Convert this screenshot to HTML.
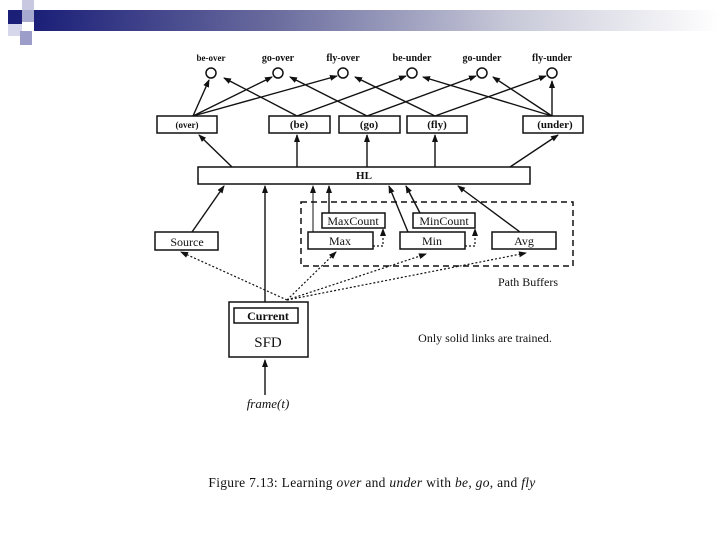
<!DOCTYPE html>
<html><head><meta charset="utf-8"><style>
html,body{margin:0;padding:0;background:#fff;width:720px;height:540px;overflow:hidden}
svg{display:block}
text{font-family:"Liberation Serif",serif;fill:#111}
</style></head><body>
<svg width="720" height="540" viewBox="0 0 720 540" xmlns="http://www.w3.org/2000/svg">
<defs>
<linearGradient id="g" x1="0" x2="1" y1="0" y2="0">
<stop offset="0" stop-color="#1b1f78"/><stop offset="0.35" stop-color="#6a6c9e"/><stop offset="0.7" stop-color="#c9cad9"/><stop offset="1" stop-color="#ffffff"/>
</linearGradient>
<marker id="a" markerWidth="8" markerHeight="8" refX="7" refY="4" orient="auto" markerUnits="userSpaceOnUse"><path d="M0,1 L8,4 L0,7 z" fill="#111"/></marker>
</defs>
<rect x="34" y="10" width="686" height="21" fill="url(#g)"/>
<rect x="22" y="0" width="12" height="10" fill="#c8c9e0"/>
<rect x="8" y="10" width="14" height="14" fill="#1b1f78"/>
<rect x="22" y="10" width="12" height="12" fill="#a7a9cf"/>
<rect x="8" y="24" width="14" height="12" fill="#d6d7ea"/>
<rect x="20" y="31" width="12" height="14" fill="#9c9ec9"/>

<g stroke="#111" stroke-width="1.5" fill="none">
<circle cx="211" cy="73" r="5"/><circle cx="278" cy="73" r="5"/><circle cx="343" cy="73" r="5"/>
<circle cx="412" cy="73" r="5"/><circle cx="482" cy="73" r="5"/><circle cx="552" cy="73" r="5"/>
<rect x="157" y="116" width="60" height="17"/><rect x="269" y="116" width="61" height="17"/>
<rect x="339" y="116" width="61" height="17"/><rect x="407" y="116" width="60" height="17"/>
<rect x="523" y="116" width="60" height="17"/>
<rect x="198" y="167" width="332" height="17"/>
<rect x="322" y="213" width="63" height="15"/><rect x="413" y="213" width="62" height="15"/>
<rect x="308" y="232" width="65" height="17"/><rect x="400" y="232" width="65" height="17"/>
<rect x="492" y="232" width="64" height="17"/><rect x="155" y="232" width="63" height="18"/>
<rect x="229" y="302" width="79" height="55"/><rect x="234" y="308" width="64" height="15"/>
<rect x="301" y="202" width="272" height="64" stroke-dasharray="6,4"/>
</g>
<g stroke="#111" stroke-width="1.4" fill="none" marker-end="url(#a)">
<line x1="193" y1="116" x2="209" y2="80"/>
<line x1="193" y1="116" x2="272" y2="77"/>
<line x1="193" y1="116" x2="337" y2="76"/>
<line x1="297" y1="116" x2="224" y2="78"/>
<line x1="297" y1="116" x2="406" y2="76"/>
<line x1="367" y1="116" x2="290" y2="77"/>
<line x1="367" y1="116" x2="476" y2="76"/>
<line x1="435" y1="116" x2="355" y2="77"/>
<line x1="435" y1="116" x2="546" y2="76"/>
<line x1="552" y1="116" x2="423" y2="77"/>
<line x1="552" y1="116" x2="493" y2="77"/>
<line x1="552" y1="116" x2="552" y2="81"/>
<line x1="232" y1="167" x2="199" y2="135"/>
<line x1="297" y1="167" x2="297" y2="135"/>
<line x1="367" y1="167" x2="367" y2="135"/>
<line x1="435" y1="167" x2="435" y2="135"/>
<line x1="510" y1="167" x2="558" y2="135"/>
<line x1="192" y1="232" x2="224" y2="186"/>
<line x1="265" y1="302" x2="265" y2="186"/>
<line x1="313" y1="232" x2="313" y2="186" stroke-width="1"/>
<line x1="329" y1="213" x2="329" y2="186"/>
<line x1="408" y1="232" x2="389" y2="186"/>
<line x1="420" y1="213" x2="406" y2="186"/>
<line x1="520" y1="232" x2="458" y2="186"/>
<line x1="265" y1="395" x2="265" y2="360"/>
</g>
<g stroke="#111" stroke-width="1.2" fill="none" stroke-dasharray="2,2">
<polyline points="373,246 383,246 383,229" marker-end="url(#a)"/>
<polyline points="465,246 475,246 475,229" marker-end="url(#a)"/>
<line x1="287" y1="300" x2="181" y2="252" marker-end="url(#a)"/>
<line x1="287" y1="300" x2="336" y2="252" marker-end="url(#a)"/>
<line x1="287" y1="300" x2="426" y2="254" marker-end="url(#a)"/>
<line x1="287" y1="300" x2="526" y2="253" marker-end="url(#a)"/>
</g>
<g font-size="11" text-anchor="middle" font-weight="bold">
<text x="211" y="61" font-size="9">be-over</text><text x="278" y="61" font-size="10">go-over</text>
<text x="343" y="61" font-size="10">fly-over</text><text x="412" y="61" font-size="10">be-under</text>
<text x="482" y="61" font-size="10">go-under</text><text x="552" y="61" font-size="10">fly-under</text>
<text x="187" y="128" font-size="9">(over)</text><text x="299" y="128">(be)</text>
<text x="369" y="128">(go)</text><text x="437" y="128">(fly)</text><text x="555" y="128">(under)</text>
<text x="364" y="179">HL</text>
</g>
<g font-size="12" text-anchor="middle">
<text x="353" y="225">MaxCount</text><text x="444" y="225">MinCount</text>
<text x="340" y="245">Max</text><text x="432" y="245">Min</text>
<text x="524" y="245">Avg</text><text x="187" y="246">Source</text>
<text x="268" y="320" font-weight="bold">Current</text>
<text x="268" y="347" font-size="15">SFD</text>
<text x="268" y="408" font-size="13" font-style="italic">frame(t)</text>
<text x="528" y="286">Path Buffers</text>
<text x="485" y="342">Only solid links are trained.</text>
<text x="372" y="487" font-size="13.5" letter-spacing="0.3">Figure 7.13: Learning <tspan font-style="italic">over</tspan> and <tspan font-style="italic">under</tspan> with <tspan font-style="italic">be</tspan>, <tspan font-style="italic">go</tspan>, and <tspan font-style="italic">fly</tspan></text>
</g>
</svg>
</body></html>
